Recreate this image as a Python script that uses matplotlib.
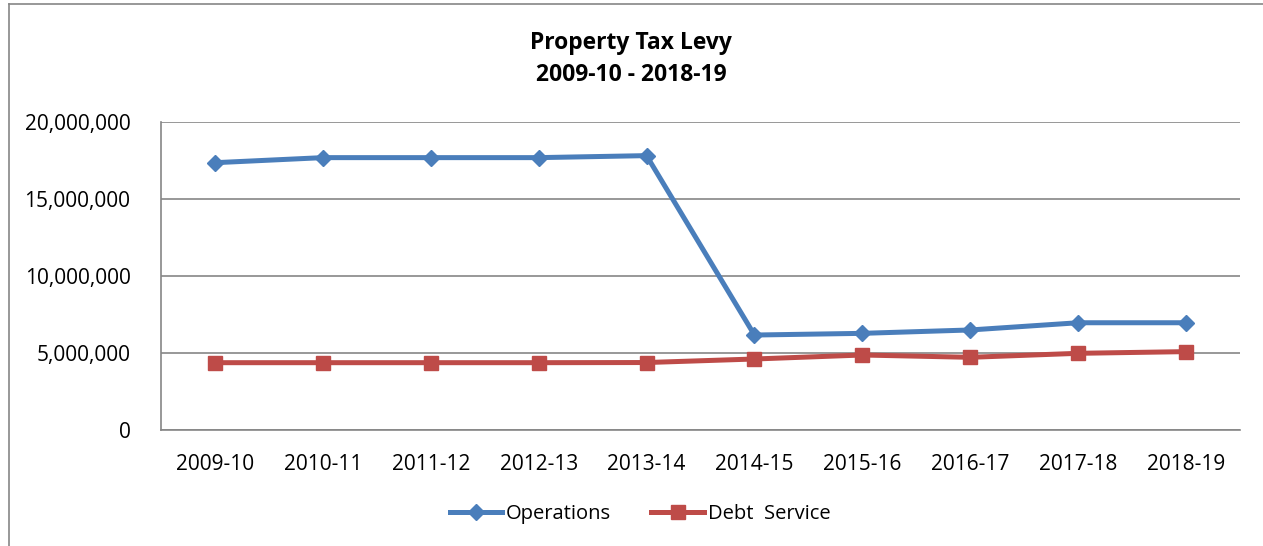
import matplotlib
matplotlib.use("Agg")
import matplotlib.pyplot as plt
from matplotlib.ticker import FuncFormatter, MultipleLocator
from matplotlib.lines import Line2D

categories = ["2009-10", "2010-11", "2011-12", "2012-13", "2013-14",
              "2014-15", "2015-16", "2016-17", "2017-18", "2018-19"]
operations = [17370000, 17700000, 17700000, 17700000, 17830000,
              6150000, 6260000, 6480000, 6950000, 6950000]
debt_service = [4350000, 4350000, 4350000, 4350000, 4360000,
                4590000, 4850000, 4700000, 4960000, 5070000]

W, H = 1263, 546
fig = plt.figure(figsize=(W / 100, H / 100), dpi=100)
plt.rcParams['font.family'] = ['Open Sans', 'DejaVu Sans']

# outer chart border (top and left visible)
border = '#868686'
fig.lines.append(Line2D([8.5 / W, 8.5 / W], [0, 1 - 3.5 / H], transform=fig.transFigure,
                        color=border, lw=1.2))
fig.lines.append(Line2D([8.5 / W, 1], [1 - 3.5 / H, 1 - 3.5 / H], transform=fig.transFigure,
                        color=border, lw=1.2))

left, right, top, bottom = 161, 1240, 122.3, 429.5
ax = fig.add_axes([left / W, 1 - bottom / H, (right - left) / W, (bottom - top) / H])

x = list(range(len(categories)))
blue = '#4A7EBB'
red = '#BE4B48'
ax.plot(x, operations, color=blue, lw=3.6, marker='D', ms=8.5, label='Operations',
        solid_joinstyle='round', zorder=3)
ax.plot(x, debt_service, color=red, lw=3.6, marker='s', ms=10.5, label='Debt  Service',
        solid_joinstyle='round', zorder=3)

ax.set_xlim(-0.5, len(categories) - 0.5)
ax.set_ylim(0, 20000000)
ax.yaxis.set_major_locator(MultipleLocator(5000000))
ax.yaxis.set_major_formatter(FuncFormatter(lambda v, p: f"{int(v):,}"))
ax.set_xticks(x)
ax.set_xticklabels(categories)
ax.grid(axis='y', color=border, lw=1.2)
ax.set_axisbelow(True)
for s in ['top', 'right']:
    ax.spines[s].set_visible(False)
for s in ['left', 'bottom']:
    ax.spines[s].set_color(border)
    ax.spines[s].set_linewidth(1.2)
ax.tick_params(axis='y', length=0, pad=22, labelsize=15)
ax.tick_params(axis='x', length=0, pad=18, labelsize=15)

fig.text(631 / W, 1 - 43 / H, "Property Tax Levy", ha='center', va='center',
         fontsize=16.5, fontweight='bold')
fig.text(631 / W, 1 - 75 / H, "2009-10 - 2018-19", ha='center', va='center',
         fontsize=16.5, fontweight='bold')

leg = fig.legend(loc='center', bbox_to_anchor=(640 / W, 1 - 514 / H), ncol=2, frameon=False,
                 fontsize=14.5, handlelength=2.6, columnspacing=2.0, handletextpad=0.2)

fig.savefig("out.png", dpi=100)
